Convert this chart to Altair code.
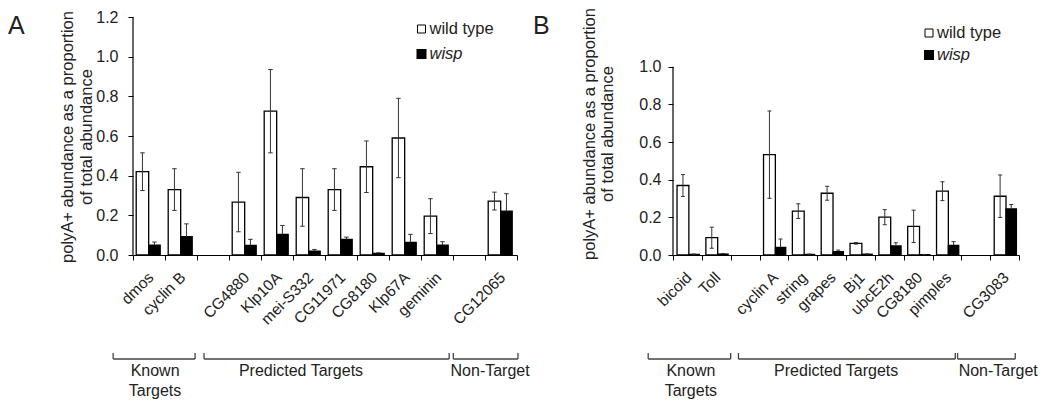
import altair as alt
import pandas as pd

# ---------------- data ----------------
# Panel A
A_KNOWN = ["dmos", "cyclin B"]
A_PRED = ["CG4880", "Klp10A", "mei-S332", "CG11971", "CG8180", "Klp67A", "geminin"]
A_NON = ["CG12065"]
A_WT = [0.42, 0.33, 0.267, 0.725, 0.29, 0.33, 0.445, 0.59, 0.196, 0.272]
A_WT_ERR = [0.095, 0.105, 0.15, 0.21, 0.145, 0.105, 0.13, 0.2, 0.088, 0.045]
A_WISP = [0.05, 0.092, 0.049, 0.104, 0.02, 0.079, 0.008, 0.064, 0.05, 0.221]
A_WISP_ERR = [0.015, 0.065, 0.03, 0.045, 0.008, 0.011, 0.003, 0.04, 0.017, 0.088]

# Panel B
B_KNOWN = ["bicoid", "Toll"]
B_PRED = ["cyclin A", "string", "grapes", "Bj1", "ubcE2h", "CG8180", "pimples"]
B_NON = ["CG3083"]
B_WT = [0.369, 0.092, 0.533, 0.233, 0.328, 0.062, 0.201, 0.152, 0.339, 0.312]
B_WT_ERR = [0.058, 0.056, 0.232, 0.039, 0.037, 0.004, 0.04, 0.086, 0.05, 0.113]
B_WISP = [0.003, 0.005, 0.041, 0.003, 0.018, 0.004, 0.048, 0.002, 0.051, 0.245]
B_WISP_ERR = [0.002, 0.003, 0.044, 0.002, 0.008, 0.002, 0.017, 0.001, 0.02, 0.023]

GROUP_NAMES = ["Known\nTargets", "Predicted Targets", "Non-Target"]
Y_TITLE_1 = "polyA+ abundance as a proportion"
Y_TITLE_2 = "of total abundance"
SERIES = ["wild type", "wisp"]
Y_TICKS_A = [0.0, 0.2, 0.4, 0.6, 0.8, 1.0, 1.2]
Y_TICKS_B = [0.0, 0.2, 0.4, 0.6, 0.8, 1.0]

FONT = "Liberation Sans"
TXT = "#222222"

# ---------------- layout (not data) ----------------
LAYOUT = {
    "A": dict(width=384, height=238, ymax=1.2, yticks=Y_TICKS_A, label_pad=10,
              wt=(0.10, 0.49), wisp=(0.49, 0.85), letter="A", letter_x=-125, letter_y=17,
              title_x=(-65, -46), title_y=120, legend_x=288.5, legend_y=(12, 37),
              brackets=[(-0.62, 1.94), (2.22, 9.88), (10.01, 12.03)],
              group_x=[0.69, 5.25, 11.16], axis_top=1.2),
    "B": dict(width=346, height=238, ymax=1.264, yticks=Y_TICKS_B, label_pad=7,
              wt=(0.14, 0.55), wisp=(0.55, 0.91), letter="B", letter_x=-140, letter_y=17,
              title_x=(-83, -65), title_y=117, legend_x=256, legend_y=(16, 38),
              brackets=[(-0.86, 2.0), (2.27, 9.79), (9.87, 11.87)],
              group_x=[0.62, 5.66, 11.28], axis_top=1.0),
}


def build_panel(groups, wt, wt_err, wisp, wisp_err, L):
    W, H = L["width"], L["height"]
    xs = alt.Scale(domain=[0, 12], nice=False, zero=False)
    ys = alt.Scale(domain=[0, L["ymax"]], nice=False, zero=True)
    genes, slots = [], []
    slot = 0
    for gi, g in enumerate(groups):
        for name in g:
            genes.append(name)
            slots.append(slot)
            slot += 1
        slot += 1
    cw = 0.07
    rows = []
    for i, (gname, s) in enumerate(zip(genes, slots)):
        for ser, vals, errs, (o0, o1) in (("wild type", wt, wt_err, L["wt"]),
                                          ("wisp", wisp, wisp_err, L["wisp"])):
            v, e = vals[i], errs[i]
            xc = s + (o0 + o1) / 2
            rows.append(dict(gene=gname, series=ser, x0=s + o0, x1=s + o1, xc=xc,
                             cx0=xc - cw, cx1=xc + cw, val=v,
                             hi=v + e, lo=max(0.0, v - e) if ser == "wild type" else v))
    df = pd.DataFrame(rows)
    df_wt = df[df.series == "wild type"]
    df_wi = df[df.series == "wisp"]
    lab = pd.DataFrame(dict(gene=genes, xc=[s + 0.56 for s in slots]))

    xaxis = alt.Axis(values=list(range(13)), labels=False, title=None, grid=False,
                     tickSize=5, tickColor="black", domainColor="black", domainWidth=1.2,
                     tickWidth=1)
    yaxis = alt.Axis(values=L["yticks"], format=".1f", title=None, grid=False,
                     tickSize=5, tickColor="black", domain=False,
                     labelFont=FONT, labelFontSize=16, labelColor=TXT,
                     labelPadding=L["label_pad"])

    X = lambda f: alt.X(f, scale=xs, axis=xaxis)
    Y = lambda f: alt.Y(f, scale=ys, axis=yaxis)

    bars_wt = alt.Chart(df_wt).mark_bar(fill="white", stroke="black", strokeWidth=1.3).encode(
        x=X("x0:Q"), x2="x1:Q", y=Y("val:Q"), y2=alt.datum(0))
    bars_wi = alt.Chart(df_wi).mark_bar(fill="black", stroke="black", strokeWidth=1.3).encode(
        x=X("x0:Q"), x2="x1:Q", y=Y("val:Q"), y2=alt.datum(0))
    err = alt.Chart(df).mark_rule(color="#333333", strokeWidth=1).encode(
        x=X("xc:Q"), y=Y("lo:Q"), y2="hi:Q")
    cap_hi = alt.Chart(df).mark_rule(color="#333333", strokeWidth=1).encode(
        x=X("cx0:Q"), x2="cx1:Q", y=Y("hi:Q"))
    cap_lo = alt.Chart(df_wt).mark_rule(color="#333333", strokeWidth=1).encode(
        x=X("cx0:Q"), x2="cx1:Q", y=Y("lo:Q"))
    yline = alt.Chart(pd.DataFrame({"a": [0]})).mark_rule(color="black", strokeWidth=1.2).encode(
        x=alt.value(0), y=alt.datum(0, scale=ys, axis=yaxis), y2=alt.datum(L["axis_top"]))

    labels = alt.Chart(lab).mark_text(angle=315, align="right", baseline="middle",
                                      font=FONT, fontSize=15.5, color=TXT).encode(
        x=X("xc:Q"), y=alt.value(H + 20), text="gene:N")

    br = pd.DataFrame(dict(g0=[b[0] for b in L["brackets"]], g1=[b[1] for b in L["brackets"]],
                           gx=L["group_x"], name=GROUP_NAMES))
    br_h = alt.Chart(br).mark_rule(color="#444444", strokeWidth=1.3).encode(
        x=X("g0:Q"), x2="g1:Q", y=alt.value(H + 104))
    br_l = alt.Chart(br).mark_rule(color="#444444", strokeWidth=1.3).encode(
        x=X("g0:Q"), y=alt.value(H + 98), y2=alt.value(H + 104))
    br_r = alt.Chart(br).mark_rule(color="#444444", strokeWidth=1.3).encode(
        x=X("g1:Q"), y=alt.value(H + 98), y2=alt.value(H + 104))
    br_t = alt.Chart(br).mark_text(align="center", baseline="top", lineBreak="\n",
                                   lineHeight=20, font=FONT, fontSize=16, color=TXT).encode(
        x=X("gx:Q"), y=alt.value(H + 108), text="name:N")

    leg = pd.DataFrame(dict(series=SERIES))
    lx = L["legend_x"]
    ly0, ly1 = L["legend_y"]
    leg_sq1 = alt.Chart(leg.iloc[:1]).mark_square(size=64, fill="white", stroke="black",
                                                   strokeWidth=1, opacity=1).encode(
        x=alt.value(lx), y=alt.value(ly0))
    leg_sq2 = alt.Chart(leg.iloc[1:]).mark_square(size=64, fill="black", stroke="black",
                                                   opacity=1).encode(
        x=alt.value(lx), y=alt.value(ly1))
    leg_t1 = alt.Chart(leg.iloc[:1]).mark_text(align="left", baseline="middle", font=FONT,
                                               fontSize=16.5, color=TXT).encode(
        x=alt.value(lx + 8), y=alt.value(ly0), text="series:N")
    leg_t2 = alt.Chart(leg.iloc[1:]).mark_text(align="left", baseline="middle", font=FONT,
                                               fontSize=16.5, fontStyle="italic", color=TXT).encode(
        x=alt.value(lx + 8), y=alt.value(ly1), text="series:N")

    ttl = pd.DataFrame(dict(t=[Y_TITLE_1]))
    ttl2 = pd.DataFrame(dict(t=[Y_TITLE_2]))
    t1 = alt.Chart(ttl).mark_text(angle=270, align="center", baseline="middle", font=FONT,
                                  fontSize=16.5, color=TXT).encode(
        x=alt.value(L["title_x"][0]), y=alt.value(L["title_y"]), text="t:N")
    t2 = alt.Chart(ttl2).mark_text(angle=270, align="center", baseline="middle", font=FONT,
                                   fontSize=16.5, color=TXT).encode(
        x=alt.value(L["title_x"][1]), y=alt.value(L["title_y"]), text="t:N")
    letter = alt.Chart(pd.DataFrame(dict(t=[L["letter"]]))).mark_text(
        align="left", baseline="alphabetic", font=FONT, fontSize=25, color=TXT).encode(
        x=alt.value(L["letter_x"]), y=alt.value(L["letter_y"]), text="t:N")

    return alt.layer(bars_wt, bars_wi, err, cap_hi, cap_lo, yline, labels,
                     br_h, br_l, br_r, br_t, leg_sq1, leg_sq2, leg_t1, leg_t2,
                     t1, t2, letter).properties(width=W, height=H)


pa = build_panel([A_KNOWN, A_PRED, A_NON], A_WT, A_WT_ERR, A_WISP, A_WISP_ERR, LAYOUT["A"])
pb = build_panel([B_KNOWN, B_PRED, B_NON], B_WT, B_WT_ERR, B_WISP, B_WISP_ERR, LAYOUT["B"])

chart = alt.hconcat(pa, pb, spacing=156, bounds="flush").properties(
    padding=0, background="white").configure_view(stroke=None)

chart.save("out.html", embed_options={"renderer": "svg", "actions": False})
